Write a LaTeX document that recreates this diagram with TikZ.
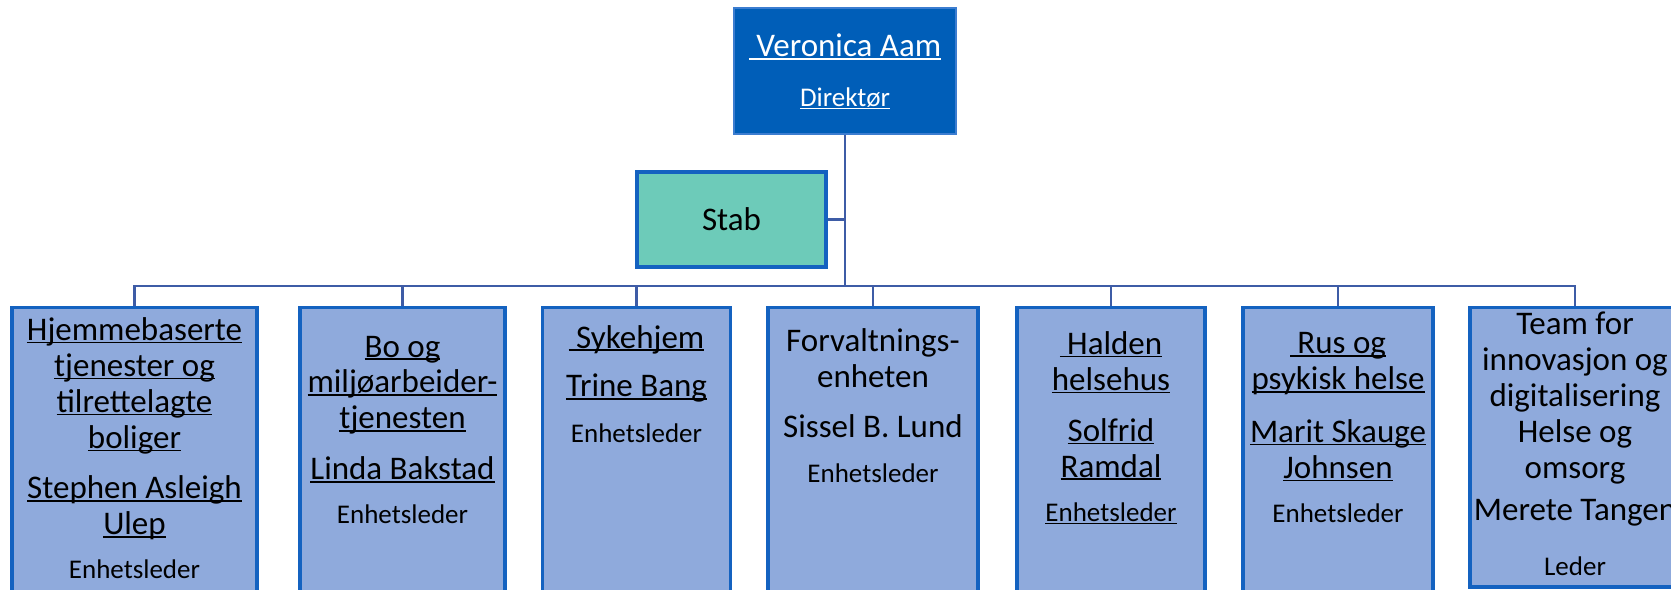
\documentclass[tikz,border=0pt]{standalone}
\usepackage{fontspec}
\setmainfont{Carlito}
\usepackage{tikz}

\definecolor{dirblue}{RGB}{0,94,184}
\definecolor{dirline}{RGB}{60,125,208}
\definecolor{unitfill}{RGB}{143,170,220}
\definecolor{unitline}{RGB}{20,98,192}
\definecolor{stabfill}{RGB}{109,203,185}
\definecolor{linkblue}{RGB}{62,92,166}

\newsavebox{\ulbox}
\newcommand{\undl}[1]{\sbox\ulbox{#1}\smash{\rlap{\rule[-0.09em]{\wd\ulbox}{0.045em}}}\usebox\ulbox}
\newcommand{\smtxt}{\fontsize{15.36}{20.48}\selectfont}
\newcommand{\topstrut}{\rule{0pt}{15pt}}

\tikzset{
  unitbox/.style={draw=unitline, fill=unitfill, line width=1.8pt, inner sep=0pt, anchor=north},
  unittext/.style={anchor=north, inner sep=0pt, align=center, font=\fontsize{18.78}{20.48}\selectfont},
  link/.style={draw=linkblue, line width=1.5pt}
}

\begin{document}
\begin{tikzpicture}[x=0.02cm, y=-0.02cm]
\useasboundingbox (0,0) rectangle (1671,590);
\clip (0,0) rectangle (1671,590);

% top: director and staff
\node[fill=dirblue, draw=dirline, line width=0.8pt, minimum width=4.44cm, minimum height=2.52cm,
  text=white, align=center, font=\fontsize{18.78}{20.48}\selectfont] (dir) at (845,71)
  {\undl{\ Veronica Aam}\\[7.97pt]{\smtxt\undl{Direktør}}};
\node[fill=stabfill, draw=unitline, line width=1.8pt, minimum width=3.78cm, minimum height=1.9cm,
  font=\fontsize{18.78}{20.48}\selectfont] (stab) at (731.5,219.5) {Stab};

% units
\node[unitbox, minimum width=4.9cm, minimum height=6cm] (u1) at (134.5,306) {};
\node[unitbox, minimum width=4.1cm, minimum height=6cm] (u2) at (402.5,306) {};
\node[unitbox, minimum width=3.76cm, minimum height=6cm] (u3) at (636.5,306) {};
\node[unitbox, minimum width=4.2cm, minimum height=6cm] (u4) at (873,306) {};
\node[unitbox, minimum width=3.76cm, minimum height=6cm] (u5) at (1111,306) {};
\node[unitbox, minimum width=3.8cm, minimum height=6cm] (u6) at (1338,306) {};
\node[unitbox, minimum width=4.2cm, minimum height=5.59cm] (u7) at (1575,306) {};

\node[unittext] (t1) at (134.5,313.6) {\topstrut\undl{Hjemmebaserte}\\ \undl{tjenester og}\\
  \undl{tilrettelagte}\\ \undl{boliger}\\[8.3pt] \undl{Stephen Asleigh}\\ \undl{Ulep}\\[4.2pt]
  {\smtxt Enhetsleder}};
\node[unittext] (t2) at (402.5,330.3) {\topstrut\undl{Bo og}\\ \undl{miljøarbeider-}\\
  \undl{tjenesten}\\[8.5pt] \undl{Linda Bakstad}\\[4.6pt] {\smtxt Enhetsleder}};
\node[unittext] (t3) at (636.5,321.3) {\topstrut\undl{\ Sykehjem}\\[7.4pt] \undl{Trine Bang}\\[5.7pt]
  {\smtxt Enhetsleder}};
\node[unittext] (t4) at (873,324.6) {\topstrut Forvaltnings-\\ enheten\\[8pt] Sissel B. Lund\\[5.5pt]
  {\smtxt Enhetsleder}};
\node[unittext] (t5) at (1111,327.6) {\topstrut\undl{\ Halden}\\ \undl{helsehus}\\[8.4pt]
  \undl{Solfrid}\\ \undl{Ramdal}\\[5.1pt] {\smtxt\undl{Enhetsleder}}};
\node[unittext] (t6) at (1338,326.9) {\topstrut\undl{\ Rus og}\\ \undl{psykisk helse}\\[9.5pt]
  \undl{Marit Skauge}\\ \undl{Johnsen}\\[4.7pt] {\smtxt Enhetsleder}};
\node[unittext] (t7) at (1575,307.9) {\topstrut Team for\\ innovasjon og\\ digitalisering\\
  Helse og\\ omsorg\\[3.2pt] Merete Tangen\\[10.8pt] {\smtxt Leder}};

% connectors
\coordinate (bus) at (845,286);
\draw[link] (dir.south) -- (bus);
\draw[link] (stab.east) -- (stab.east -| bus);
\foreach \i in {1,...,7}
  \draw[link] (bus) -| (u\i.north);

\end{tikzpicture}
\end{document}
